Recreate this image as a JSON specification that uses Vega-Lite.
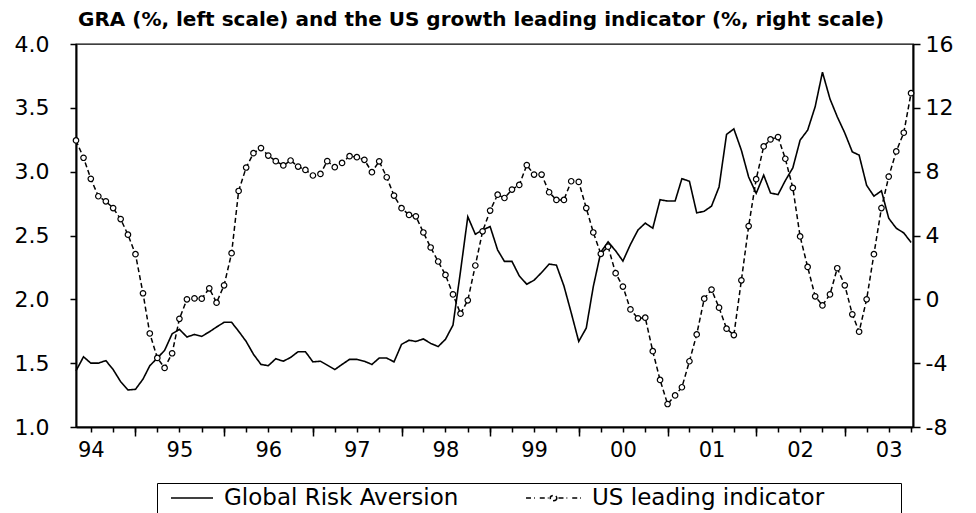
{
  "$schema": "https://vega.github.io/schema/vega-lite/v6.json",
  "width": 837,
  "height": 383,
  "autosize": {"type": "none"},
  "padding": {"left": 76, "top": 44, "right": 63, "bottom": 86},
  "background": "white",
  "config": {
    "view": {"stroke": "black", "strokeWidth": 1.3},
    "font": "DejaVu Sans",
    "axis": {"grid": false, "domainColor": "black", "tickColor": "black", "labelColor": "black", "labelFont": "DejaVu Sans", "labelFontSize": 21, "domainWidth": 2, "tickWidth": 1.5, "title": null}
  },
  "title": {"text": "GRA (%, left scale) and the US growth leading indicator (%, right scale)", "anchor": "start", "frame": "group", "font": "DejaVu Sans", "fontSize": 20, "fontWeight": "bold", "color": "black", "offset": 3, "dx": 2},
  "data": {"values": [
    {"date": "1994-05-01", "gra": 1.44, "li": 9.96},
    {"date": "1994-06-01", "gra": 1.55, "li": 8.87},
    {"date": "1994-07-01", "gra": 1.50, "li": 7.55},
    {"date": "1994-08-01", "gra": 1.50, "li": 6.46},
    {"date": "1994-09-01", "gra": 1.52, "li": 6.14},
    {"date": "1994-10-01", "gra": 1.45, "li": 5.72},
    {"date": "1994-11-01", "gra": 1.355, "li": 5.03},
    {"date": "1994-12-01", "gra": 1.29, "li": 4.05},
    {"date": "1995-01-01", "gra": 1.295, "li": 2.83},
    {"date": "1995-02-01", "gra": 1.375, "li": 0.38},
    {"date": "1995-03-01", "gra": 1.48, "li": -2.14},
    {"date": "1995-04-01", "gra": 1.54, "li": -3.67},
    {"date": "1995-05-01", "gra": 1.60, "li": -4.30},
    {"date": "1995-06-01", "gra": 1.73, "li": -3.38},
    {"date": "1995-07-01", "gra": 1.765, "li": -1.22},
    {"date": "1995-08-01", "gra": 1.705, "li": 0.0},
    {"date": "1995-09-01", "gra": 1.725, "li": 0.06},
    {"date": "1995-10-01", "gra": 1.71, "li": 0.04},
    {"date": "1995-11-01", "gra": 1.745, "li": 0.69},
    {"date": "1995-12-01", "gra": 1.783, "li": -0.21},
    {"date": "1996-01-01", "gra": 1.82, "li": 0.88},
    {"date": "1996-02-01", "gra": 1.82, "li": 2.89},
    {"date": "1996-03-01", "gra": 1.75, "li": 6.79},
    {"date": "1996-04-01", "gra": 1.67, "li": 8.26},
    {"date": "1996-05-01", "gra": 1.57, "li": 9.16},
    {"date": "1996-06-01", "gra": 1.49, "li": 9.48},
    {"date": "1996-07-01", "gra": 1.48, "li": 9.01},
    {"date": "1996-08-01", "gra": 1.535, "li": 8.66},
    {"date": "1996-09-01", "gra": 1.515, "li": 8.39},
    {"date": "1996-10-01", "gra": 1.545, "li": 8.70},
    {"date": "1996-11-01", "gra": 1.59, "li": 8.32},
    {"date": "1996-12-01", "gra": 1.59, "li": 8.11},
    {"date": "1997-01-01", "gra": 1.51, "li": 7.76},
    {"date": "1997-02-01", "gra": 1.515, "li": 7.86},
    {"date": "1997-03-01", "gra": 1.485, "li": 8.66},
    {"date": "1997-04-01", "gra": 1.45, "li": 8.28},
    {"date": "1997-05-01", "gra": 1.49, "li": 8.55},
    {"date": "1997-06-01", "gra": 1.53, "li": 8.97},
    {"date": "1997-07-01", "gra": 1.53, "li": 8.91},
    {"date": "1997-08-01", "gra": 1.515, "li": 8.74},
    {"date": "1997-09-01", "gra": 1.49, "li": 7.97},
    {"date": "1997-10-01", "gra": 1.54, "li": 8.65},
    {"date": "1997-11-01", "gra": 1.54, "li": 7.65},
    {"date": "1997-12-01", "gra": 1.51, "li": 6.50},
    {"date": "1998-01-01", "gra": 1.647, "li": 5.71},
    {"date": "1998-02-01", "gra": 1.68, "li": 5.29},
    {"date": "1998-03-01", "gra": 1.67, "li": 5.20},
    {"date": "1998-04-01", "gra": 1.69, "li": 4.19},
    {"date": "1998-05-01", "gra": 1.655, "li": 3.25},
    {"date": "1998-06-01", "gra": 1.63, "li": 2.37},
    {"date": "1998-07-01", "gra": 1.687, "li": 1.53},
    {"date": "1998-08-01", "gra": 1.798, "li": 0.31},
    {"date": "1998-09-01", "gra": 2.22, "li": -0.90},
    {"date": "1998-10-01", "gra": 2.647, "li": -0.06},
    {"date": "1998-11-01", "gra": 2.51, "li": 2.12},
    {"date": "1998-12-01", "gra": 2.543, "li": 4.26},
    {"date": "1999-01-01", "gra": 2.57, "li": 5.56},
    {"date": "1999-02-01", "gra": 2.386, "li": 6.56},
    {"date": "1999-03-01", "gra": 2.297, "li": 6.35},
    {"date": "1999-04-01", "gra": 2.297, "li": 6.88},
    {"date": "1999-05-01", "gra": 2.184, "li": 7.17},
    {"date": "1999-06-01", "gra": 2.118, "li": 8.41},
    {"date": "1999-07-01", "gra": 2.15, "li": 7.82},
    {"date": "1999-08-01", "gra": 2.21, "li": 7.82},
    {"date": "1999-09-01", "gra": 2.276, "li": 6.71},
    {"date": "1999-10-01", "gra": 2.268, "li": 6.23},
    {"date": "1999-11-01", "gra": 2.105, "li": 6.23},
    {"date": "1999-12-01", "gra": 1.895, "li": 7.40},
    {"date": "2000-01-01", "gra": 1.67, "li": 7.36},
    {"date": "2000-02-01", "gra": 1.775, "li": 5.72},
    {"date": "2000-03-01", "gra": 2.10, "li": 4.19},
    {"date": "2000-04-01", "gra": 2.37, "li": 2.85},
    {"date": "2000-05-01", "gra": 2.45, "li": 3.30},
    {"date": "2000-06-01", "gra": 2.38, "li": 1.64},
    {"date": "2000-07-01", "gra": 2.30, "li": 0.80},
    {"date": "2000-08-01", "gra": 2.43, "li": -0.63},
    {"date": "2000-09-01", "gra": 2.543, "li": -1.19},
    {"date": "2000-10-01", "gra": 2.597, "li": -1.15},
    {"date": "2000-11-01", "gra": 2.557, "li": -3.25},
    {"date": "2000-12-01", "gra": 2.78, "li": -5.05},
    {"date": "2001-01-01", "gra": 2.77, "li": -6.56},
    {"date": "2001-02-01", "gra": 2.77, "li": -6.02},
    {"date": "2001-03-01", "gra": 2.945, "li": -5.51},
    {"date": "2001-04-01", "gra": 2.925, "li": -3.88},
    {"date": "2001-05-01", "gra": 2.677, "li": -2.20},
    {"date": "2001-06-01", "gra": 2.69, "li": 0.04},
    {"date": "2001-07-01", "gra": 2.73, "li": 0.61},
    {"date": "2001-08-01", "gra": 2.88, "li": -0.52},
    {"date": "2001-09-01", "gra": 3.292, "li": -1.84},
    {"date": "2001-10-01", "gra": 3.335, "li": -2.24},
    {"date": "2001-11-01", "gra": 3.168, "li": 1.19},
    {"date": "2001-12-01", "gra": 2.958, "li": 4.59},
    {"date": "2002-01-01", "gra": 2.83, "li": 7.53},
    {"date": "2002-02-01", "gra": 2.973, "li": 9.58},
    {"date": "2002-03-01", "gra": 2.833, "li": 10.02},
    {"date": "2002-04-01", "gra": 2.82, "li": 10.17},
    {"date": "2002-05-01", "gra": 2.93, "li": 8.81},
    {"date": "2002-06-01", "gra": 3.03, "li": 6.98},
    {"date": "2002-07-01", "gra": 3.247, "li": 3.94},
    {"date": "2002-08-01", "gra": 3.325, "li": 2.03},
    {"date": "2002-09-01", "gra": 3.509, "li": 0.19},
    {"date": "2002-10-01", "gra": 3.779, "li": -0.38},
    {"date": "2002-11-01", "gra": 3.57, "li": 0.31},
    {"date": "2002-12-01", "gra": 3.43, "li": 1.95},
    {"date": "2003-01-01", "gra": 3.303, "li": 0.88},
    {"date": "2003-02-01", "gra": 3.155, "li": -0.94},
    {"date": "2003-03-01", "gra": 3.13, "li": -2.03},
    {"date": "2003-04-01", "gra": 2.893, "li": 0.0},
    {"date": "2003-05-01", "gra": 2.808, "li": 2.83},
    {"date": "2003-06-01", "gra": 2.85, "li": 5.72},
    {"date": "2003-07-01", "gra": 2.635, "li": 7.69},
    {"date": "2003-08-01", "gra": 2.557, "li": 9.27},
    {"date": "2003-09-01", "gra": 2.52, "li": 10.44},
    {"date": "2003-10-01", "gra": 2.446, "li": 12.92}
  ]},
  "layer": [
    {
      "mark": {"type": "line", "color": "black", "strokeWidth": 1.6},
      "encoding": {
        "x": {"field": "date", "type": "temporal",
          "scale": {"type": "utc", "domain": [{"year": 1994, "month": 5, "date": 1, "utc": true}, {"year": 2003, "month": 10, "date": 9, "utc": true}], "nice": false},
          "axis": {"orient": "bottom", "tickCount": {"interval": "month", "step": 3}, "tickSize": 5, "labelExpr": "utcmonth(datum.value) === 6 ? utcFormat(datum.value, '%y') : ''", "labelPadding": 7, "labelOverlap": false, "labelFlush": false, "labelBound": false}},
        "y": {"field": "gra", "type": "quantitative",
          "scale": {"domain": [1, 4], "nice": false, "zero": false},
          "axis": {"orient": "left", "values": [1, 1.5, 2, 2.5, 3, 3.5, 4], "format": ".1f", "tickSize": 6, "labelPadding": 21, "labelFontSize": 22}},
        "strokeDash": {"datum": "Global Risk Aversion",
          "scale": {"domain": ["Global Risk Aversion", "US leading indicator"], "range": [[1, 0], [5, 3]]},
          "legend": {"orient": "none", "legendX": 81, "legendY": 439, "direction": "horizontal", "title": null,
            "strokeColor": "black", "padding": 3, "labelFont": "DejaVu Sans", "labelFontSize": 23, "labelColor": "black",
            "symbolSize": 484, "symbolOffset": 0, "labelOffset": 40, "columnPadding": 64, "labelLimit": 600,
            "symbolStrokeColor": "black", "symbolStrokeWidth": 1.5,
            "labelExpr": "datum.index === 1 ? datum.label + '\u00a0\u00a0\u00a0\u00a0\u00a0\u00a0\u00a0\u00a0\u00a0\u00a0\u200b' : datum.label",
            "encode": {"symbols": {"update": {
              "shape": {"signal": "datum.value === 'US leading indicator' ? 'M-1.27,0H-0.47M-0.02,0H0.78M1.68,0H2.48M2.93,0H3.73M1.53,0A0.3,0.24 0 1 1 0.93,0A0.3,0.24 0 1 1 1.53,0' : 'M-0.09,0H3.73'"},
              "strokeDash": {"value": [1, 0]},
              "stroke": {"value": "black"},
              "fill": {"value": "white"}
            }}}}}
      }
    },
    {
      "encoding": {
        "x": {"field": "date", "type": "temporal",
          "scale": {"type": "utc", "domain": [{"year": 1994, "month": 5, "date": 1, "utc": true}, {"year": 2003, "month": 10, "date": 9, "utc": true}], "nice": false},
          "axis": {"orient": "bottom", "tickCount": {"interval": "year", "step": 1}, "tickSize": 9, "labels": false, "domain": false}},
        "y": {"field": "li", "type": "quantitative",
          "scale": {"domain": [-8, 16], "nice": false, "zero": false},
          "axis": {"orient": "right", "values": [-8, -4, 0, 4, 8, 12, 16], "labelExpr": "'' + datum.value", "tickSize": 7, "labelPadding": 5, "labelFontSize": 22}}
      },
      "layer": [
        {"mark": {"type": "line", "color": "black", "strokeWidth": 1.5},
         "encoding": {"strokeDash": {"datum": "US leading indicator"}}},
        {"mark": {"type": "point", "shape": "circle", "filled": true, "fill": "white", "stroke": "black", "strokeWidth": 1.2, "size": 30, "opacity": 1}}
      ]
    }
  ],
  "resolve": {"scale": {"y": "independent"}, "axis": {"x": "independent"}}
}
